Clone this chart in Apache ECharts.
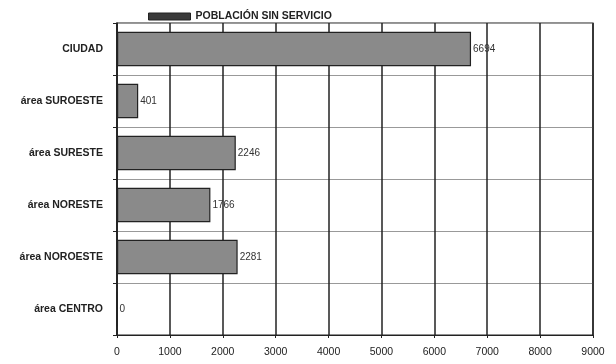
<!DOCTYPE html>
<html><head><meta charset="utf-8">
<script src="https://cdn.jsdelivr.net/npm/echarts@6/dist/echarts.min.js"></script>
<style>html,body{margin:0;padding:0;background:#fff}#c{width:616px;height:364px}</style>
</head><body><div id="c"></div>
<script>
const categories = ["CIUDAD", "área SUROESTE", "área SURESTE", "área NORESTE", "área NOROESTE", "área CENTRO"];
const values = [6694, 401, 2246, 1766, 2281, 0];
const seriesName = "POBLACIÓN SIN SERVICIO";
const xTicks = [0, 1000, 2000, 3000, 4000, 5000, 6000, 7000, 8000, 9000];

const chart = echarts.init(document.getElementById('c'), null, {renderer: 'canvas'});
chart.setOption({
  animation: false,
  backgroundColor: '#fff',
  textStyle: {fontFamily: 'Liberation Sans'},
  legend: {
    data: [{name: seriesName, itemStyle: {color: '#3a3a3a', borderColor: '#222', borderWidth: 1}}],
    left: 143, top: 6,
    itemWidth: 42, itemHeight: 7, itemGap: 3,
    icon: 'rect',
    textStyle: {fontSize: 10.5, fontWeight: 'bold', color: '#222', fontFamily: 'Liberation Sans'}
  },
  grid: {left: 117, right: 23, top: 23, bottom: 29, containLabel: false,
         show: true, borderColor: '#222', borderWidth: 1.2, backgroundColor: 'transparent'},
  xAxis: {
    type: 'value', min: xTicks[0], max: xTicks[xTicks.length - 1], interval: 1000,
    axisLine: {show: true, lineStyle: {color: '#222', width: 1.2}},
    axisTick: {show: true, length: 3, lineStyle: {color: '#222'}},
    splitLine: {show: true, lineStyle: {color: '#222', width: 1.5}},
    axisLabel: {fontSize: 10.5, color: '#222', margin: 12, formatter: v => String(v)}
  },
  yAxis: {
    type: 'category', data: categories, inverse: true,
    axisLine: {show: true, lineStyle: {color: '#222', width: 1.5}},
    axisTick: {show: true, length: 4, inside: false, lineStyle: {color: '#222'}},
    splitLine: {show: true, lineStyle: {color: '#999', width: 1}},
    axisLabel: {fontSize: 10.5, fontWeight: 'bold', color: '#222', margin: 14}
  },
  series: [{
    name: seriesName, type: 'bar', data: values,
    barCategoryGap: '34%',
    itemStyle: {color: '#8a8a8a', borderColor: '#222', borderWidth: 1.2},
    label: {show: true, position: 'right', distance: 2, fontSize: 10, color: '#333'}
  }]
});
</script></body></html>
